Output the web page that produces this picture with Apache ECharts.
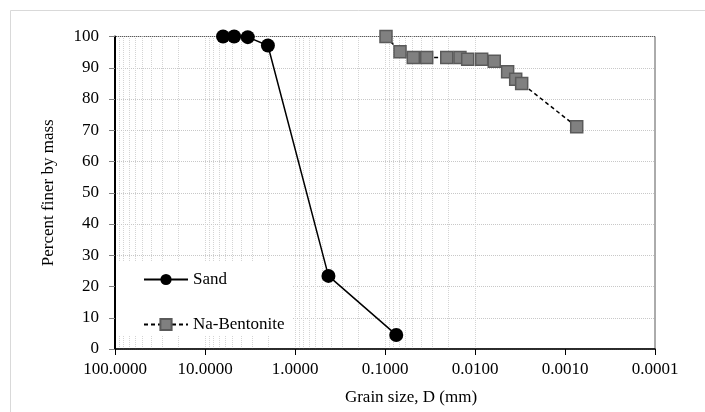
<!DOCTYPE html>
<html>
<head>
<meta charset="utf-8">
<script src="https://cdn.jsdelivr.net/npm/echarts@6/dist/echarts.min.js"></script>
<style>
  html, body { margin: 0; padding: 0; background: #fff; }
  #chart { width: 705px; height: 412px; }
</style>
</head>
<body>
<div id="chart"></div>
<script>
// grain size (mm) and percent finer
var sandSize = [6.3, 4.75, 3.35, 2.0, 0.425, 0.075]
var sandFiner = [100, 100, 99.8, 97.1, 23.4, 4.5]

var bentSize = [0.0975, 0.0681, 0.0485, 0.0344, 0.0206, 0.0147, 0.01205, 0.00843, 0.00611, 0.00434, 0.00353, 0.00303, 0.000741]
var bentFiner = [100, 95.1, 93.3, 93.3, 93.3, 93.3, 92.7, 92.7, 92.1, 88.7, 86.3, 85.0, 71.1]

var seriesNames = ['Sand', 'Na-Bentonite']
var decades = [100, 10, 1, 0.1, 0.01, 0.001]

function pairs(xs, ys) {
  var out = []
  for (var i = 0; i < xs.length; i++) out.push([xs[i], ys[i]])
  return out
}

// minor vertical grid lines at 1..9 x each decade
var minorLines = []
for (var d = 0; d < decades.length; d++) {
  for (var k = 1; k <= 9; k++) {
    var v = decades[d] / 10 * k
    minorLines.push({ xAxis: +v.toPrecision(6) })
  }
}

var font = 'Liberation Serif'
var fs = 17
var chart = echarts.init(document.getElementById('chart'))

chart.setOption({
  backgroundColor: '#fff',
  animation: false,
  textStyle: { fontFamily: font, color: '#000' },
  graphic: [
    {
      type: 'rect',
      shape: { x: 10.5, y: 10.5, width: 740, height: 440 },
      style: { fill: 'none', stroke: '#d9d9d9', lineWidth: 1 },
      z: -10
    },
    {
      // white legend box hiding the grid behind it
      type: 'rect',
      shape: { x: 117, y: 262, width: 176, height: 73 },
      style: { fill: '#fff' },
      z: 50
    }
  ],
  grid: {
    left: 115, right: 50, top: 36.5, bottom: 63,
    show: true, borderColor: '#595959', borderWidth: 1
  },
  legend: {
    data: seriesNames,
    orient: 'vertical',
    left: 143,
    top: 271,
    padding: 0,
    itemGap: 28,
    itemWidth: 44,
    itemHeight: 14,
    z: 60,
    textStyle: { fontFamily: font, fontSize: fs, color: '#000' }
  },
  xAxis: {
    type: 'log',
    logBase: 10,
    inverse: true,
    min: 0.0001,
    max: 100,
    name: 'Grain size, D (mm)',
    nameLocation: 'middle',
    nameGap: 40,
    nameTextStyle: { fontFamily: font, fontSize: fs, color: '#000', padding: [0, 0, 0, 52] },
    axisLine: { lineStyle: { color: '#000', width: 1.5 } },
    axisTick: { show: true, length: 6, lineStyle: { color: '#000' } },
    axisLabel: {
      fontFamily: font, fontSize: fs, color: '#000', margin: 12,
      formatter: function (v) { return (+v).toFixed(4) }
    },
    splitLine: { show: false }
  },
  yAxis: {
    type: 'value',
    min: 0,
    max: 100,
    interval: 10,
    name: 'Percent finer by mass',
    nameLocation: 'middle',
    nameGap: 58,
    nameTextStyle: { fontFamily: font, fontSize: fs, color: '#000' },
    axisLine: { show: true, lineStyle: { color: '#000', width: 2 } },
    axisTick: { show: true, length: 6, lineStyle: { color: '#7f7f7f' } },
    axisLabel: { fontFamily: font, fontSize: fs, color: '#000', margin: 16 },
    splitLine: { show: true, lineStyle: { color: '#c8c8c8', type: 'dotted', width: 1 } }
  },
  series: [
    {
      name: 'grid',
      type: 'line',
      data: [],
      silent: true,
      z: 0,
      markLine: {
        silent: true,
        z: 0,
        symbol: 'none',
        label: { show: false },
        animation: false,
        lineStyle: { color: '#d4d4d4', type: 'dotted', width: 1 },
        data: minorLines
      }
    },
    {
      name: 'Sand',
      type: 'line',
      data: pairs(sandSize, sandFiner),
      symbol: 'circle',
      symbolSize: 14,
      z: 10,
      itemStyle: { color: '#000' },
      lineStyle: { color: '#000', width: 1.5 }
    },
    {
      name: 'Na-Bentonite',
      type: 'line',
      data: pairs(bentSize, bentFiner),
      symbol: 'rect',
      symbolSize: 12,
      z: 10,
      itemStyle: { color: '#808080', borderColor: '#5a5a5a', borderWidth: 1.5 },
      lineStyle: { color: '#000', width: 1.5, type: [4, 3] }
    }
  ]
})
</script>
</body>
</html>
